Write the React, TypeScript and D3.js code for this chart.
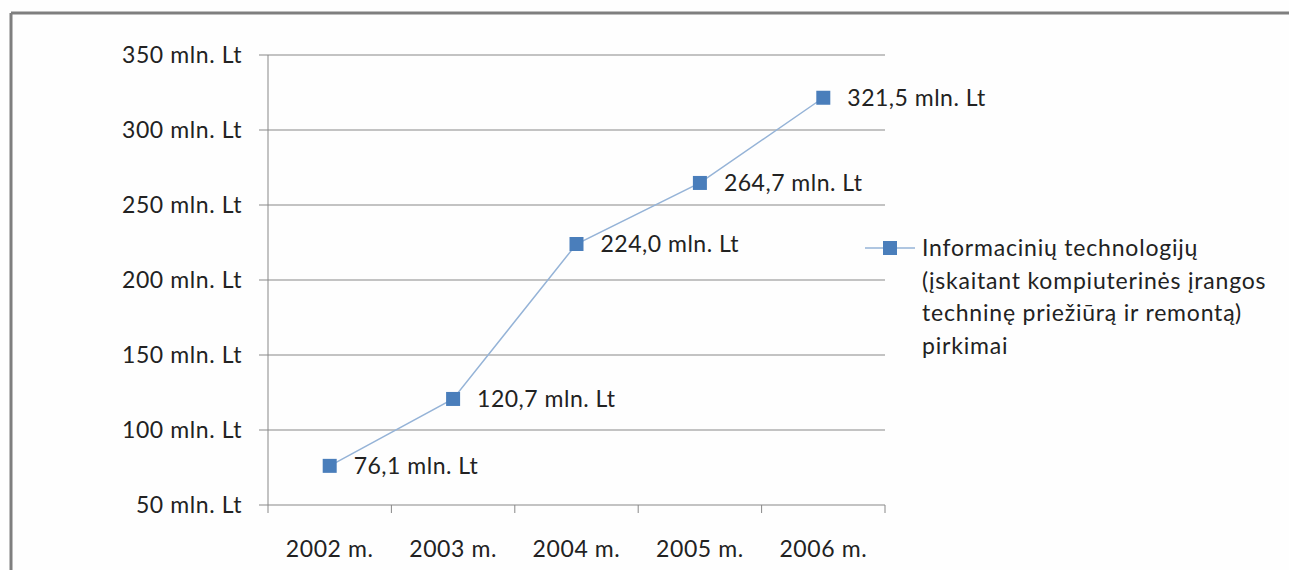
import React from "react";
import * as d3 from "d3";

const categories = ["2002 m.", "2003 m.", "2004 m.", "2005 m.", "2006 m."];
const values = [76.1, 120.7, 224.0, 264.7, 321.5];
const yTicks = [50, 100, 150, 200, 250, 300, 350];
const legendLines = [
  "Informacinių technologijų",
  "(įskaitant kompiuterinės įrangos",
  "techninę priežiūrą ir remontą)",
  "pirkimai",
];

const W = 1289;
const H = 570;
const FONT = "Lato, 'Open Sans', sans-serif";
const FS = 23;

export default function App() {
  const left = 268, right = 885, top = 55, bottom = 505;
  const x = d3.scaleBand<string>().domain(categories).range([left, right]);
  const y = d3.scaleLinear().domain([50, 350]).range([bottom, top]);
  const cx = (c: string) => (x(c) as number) + x.bandwidth() / 2;
  const line = d3
    .line<number>()
    .x((_, i) => cx(categories[i]))
    .y((d) => y(d));
  const fmt = (v: number) => v.toFixed(1).replace(".", ",") + " mln. Lt";
  const tickXs = [...categories.map((c) => x(c) as number), right];

  return (
    <svg width={W} height={H} style={{ position: "absolute", left: 0, top: 0, background: "#fefefe" }}>
      <rect x={0} y={0} width={W} height={H} fill="#fefefe" />
      {/* outer border */}
      <line x1={11} x2={W} y1={13} y2={13} stroke="#7f7f7f" strokeWidth={3} />
      <line x1={11} x2={11} y1={13} y2={H} stroke="#7f7f7f" strokeWidth={3} />
      {/* gridlines */}
      {yTicks.map((t) => (
        <g key={t}>
          <line x1={left - 9} x2={right} y1={y(t)} y2={y(t)} stroke="#888" strokeWidth={1} />
          <text
            x={left - 26}
            y={y(t)}
            dy="0.35em"
            textAnchor="end"
            fontFamily={FONT}
            fontSize={FS}
            letterSpacing={0.6}
            fill="#222"
          >
            {t} mln. Lt
          </text>
        </g>
      ))}
      {/* y axis */}
      <line x1={left} x2={left} y1={top} y2={bottom} stroke="#888" strokeWidth={1} />
      {/* x ticks */}
      {tickXs.map((tx, i) => (
        <line key={i} x1={tx} x2={tx} y1={bottom} y2={bottom + 8} stroke="#888" strokeWidth={1} />
      ))}
      {categories.map((c) => (
        <text
          key={c}
          x={cx(c)}
          y={bottom + 44}
          dy="0.35em"
          textAnchor="middle"
          fontFamily={FONT}
          fontSize={FS}
          letterSpacing={0.6}
          fill="#222"
        >
          {c}
        </text>
      ))}
      {/* series line */}
      <path d={line(values) || ""} fill="none" stroke="#95b3d7" strokeWidth={1.5} />
      {values.map((v, i) => (
        <g key={i}>
          <rect x={cx(categories[i]) - 7} y={y(v) - 7} width={14} height={14} fill="#4a7ebb" />
          <text
            x={cx(categories[i]) + 24}
            y={y(v)}
            dy="0.35em"
            fontFamily={FONT}
            fontSize={FS}
            letterSpacing={0.5}
            fill="#222"
          >
            {fmt(v)}
          </text>
        </g>
      ))}
      {/* legend */}
      <line x1={865} x2={915} y1={248} y2={248} stroke="#95b3d7" strokeWidth={1.5} />
      <rect x={883} y={241} width={14} height={14} fill="#4a7ebb" />
      {legendLines.map((l, i) => (
        <text
          key={i}
          x={922}
          y={248 + i * 32.5}
          dy="0.35em"
          fontFamily={FONT}
          fontSize={FS}
          letterSpacing={0.8}
          fill="#222"
        >
          {l}
        </text>
      ))}
    </svg>
  );
}
